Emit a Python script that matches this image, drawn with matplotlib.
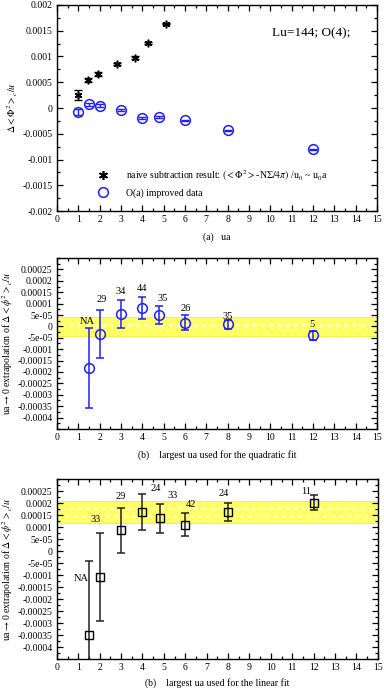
import numpy as np
import matplotlib
matplotlib.use('Agg')
from matplotlib import pyplot as plt
from matplotlib.lines import Line2D
from matplotlib.ticker import MultipleLocator, FuncFormatter

plt.rcParams['font.family'] = ['Liberation Serif', 'DejaVu Serif']
plt.rcParams['mathtext.fontset'] = 'stix'
plt.rcParams['hatch.linewidth'] = 1.5

# panel (a): naive subtraction vs O(a) improved
naive_x = [1.0, 1.45, 1.92, 2.8, 3.66, 4.29, 5.13]
naive_y = [0.000252, 0.000544, 0.00066, 0.00086, 0.00098, 0.00127, 0.00164]
naive_err = [0.0001, 0.00003, 0.00004, 0.00002, 0.00003, 0.00002, 0.00001]

impr_x = [1, 1.5, 2, 3, 4, 4.8, 6, 8, 12]
impr_y = [-0.00007, 0.00007, 0.000045, -0.000045, -0.0002, -0.000175, -0.00024, -0.00043, -0.0008]
impr_err = [0.00006, 0.00003, 0.00003, 0.00002, 0.00002, 0.00002, 0.000015, 0.000012, 0.000012]

# panel (b): quadratic fit extrapolations
quad_x = [1.5, 2, 3, 4, 4.8, 6, 8, 12]
quad_y = [-0.000183, -0.000032, 0.000055, 0.000081, 0.000049, 0.000016, 0.000009, -0.000039]
quad_err = [0.000176, 0.000105, 0.00006, 0.000047, 0.00004, 0.000033, 0.00002, 0.00002]
quad_lab = ['NA', '29', '34', '44', '35', '26', '35', '5']
quad_band = (-0.00004, 0.00004)

# panel (c): linear fit extrapolations
lin_x = [1.5, 2, 3, 4, 4.8, 6, 8, 12]
lin_y = [-0.000351, -0.000108, 0.0000856, 0.000163, 0.000137, 0.00011, 0.000162, 0.000202]
lin_err = [0.00031, 0.000182, 0.000094, 0.000074, 0.00006, 0.000047, 0.000037, 0.00003]
lin_lab = ['NA', '33', '29', '24', '33', '42', '24', '11']
lin_band = (0.000116, 0.000208)

# label offsets in pixels from the top of each error bar
quad_off = [(-2, 6), (2, 10), (0, 9), (0, 9), (3, 8), (1, 7), (0, 3), (-1, 6)]
lin_off = [(-8, -18), (-4, 14), (0, 11), (13, 6), (13, 8), (6, 9), (-4, 10), (-8, 4)]

blue = '#1e1eff'


def fmt(v, pos):
    v = round(v, 8)
    if v == 0:
        return '0'
    return '%g' % v


def style(ax, ymaj, ymin):
    ax.set_xlim(0, 15)
    ax.xaxis.set_major_locator(MultipleLocator(1))
    ax.xaxis.set_minor_locator(MultipleLocator(0.5))
    ax.yaxis.set_minor_locator(MultipleLocator(ymin))
    ax.yaxis.set_major_formatter(FuncFormatter(fmt))
    ax.tick_params(which='both', direction='in', top=True, right=True, labelsize=7, width=0.9)
    ax.tick_params(which='major', length=4, pad=3)
    ax.tick_params(which='minor', length=2)
    for s in ax.spines.values():
        s.set_linewidth(1.0)


def band(ax, lo, hi):
    ax.axhspan(lo, hi, facecolor='#ffff66', edgecolor='#eeee30', lw=0.6, zorder=0)
    mid = 0.5 * (lo + hi)
    q = 0.25 * (hi - lo)
    ax.fill_between([0, 15], mid - q, mid + q, facecolor='none', edgecolor='#ffffd8',
                    hatch='..', lw=0, zorder=0.5)


fig = plt.figure(figsize=(3.84, 6.91), dpi=100)

# ---- panel (a)
ax1 = fig.add_axes([0.148, 0.6946, 0.834, 0.2982])
ax1.errorbar(naive_x, naive_y, yerr=naive_err, fmt='none', ecolor='black', elinewidth=1, capsize=3, capthick=1)
ax1.plot(naive_x, naive_y, ls='none', marker=(6, 2, 0), ms=5.5, mew=1.1, color='black')
ax1.errorbar(impr_x, impr_y, yerr=impr_err, fmt='none', ecolor=blue, elinewidth=1, capsize=3, capthick=1)
ax1.plot(impr_x, impr_y, ls='none', marker='o', ms=7, mfc='none', mec=blue, mew=1.1)
ax1.set_ylim(-0.002, 0.002)
ax1.set_yticks(np.arange(-0.002, 0.00201, 0.0005))
style(ax1, 0.0005, 0.00025)
ax1.set_ylabel(r'$\Delta{<}\Phi^2{>}_c/u$', fontsize=7, labelpad=2)
ax1.set_xlabel('(a)   ua', fontsize=7, labelpad=6)
ax1.text(0.672, 0.864, 'Lu=144; O(4);', transform=ax1.transAxes, fontsize=9.5, va='center')
handles = [Line2D([], [], ls='none', marker=(6, 2, 0), ms=6.5, mew=1.2, color='black'),
           Line2D([], [], ls='none', marker='o', ms=7, mfc='none', mec=blue, mew=1.1)]
names = [r'naive subtraction result: $({<}\Phi^2{>}$-N$\Sigma/4\pi)$ /u$_0$ ~ u$_0$a',
         'O(a) improved data']
ax1.legend(handles, names, loc='lower left', bbox_to_anchor=(0.1, 0.03), frameon=False,
           fontsize=7, handlelength=1.5, handletextpad=1.6, labelspacing=0.6, borderpad=0.2)

# ---- panel (b)
ax2 = fig.add_axes([0.148, 0.3792, 0.834, 0.2474])
band(ax2, *quad_band)
ax2.errorbar(quad_x, quad_y, yerr=quad_err, fmt='none', ecolor=blue, elinewidth=1.1, capsize=3, capthick=1.1)
ax2.plot(quad_x, quad_y, ls='none', marker='o', ms=7, mfc='none', mec=blue, mew=1.1)
for x, y, e, t, (dx, dy) in zip(quad_x, quad_y, quad_err, quad_lab, quad_off):
    ax2.annotate(t, (x, y + e), xytext=(dx, dy), textcoords='offset pixels',
                 ha='center', va='center', fontsize=7.5)
ax2.set_ylim(-0.00045, 0.0003)
ax2.set_yticks(np.arange(-0.0004, 0.00026, 0.00005))
style(ax2, 0.00005, 0.000025)
ax2.set_ylabel(r'ua$\rightarrow$0 extrapolation of $\Delta{<}\phi^2{>}_c/u$', fontsize=7, labelpad=2)
ax2.set_xlabel('(b)    largest ua used for the quadratic fit', fontsize=7, labelpad=6)

# ---- panel (c)
ax3 = fig.add_axes([0.148, 0.0463, 0.836, 0.2605])
band(ax3, *lin_band)
ax3.errorbar(lin_x, lin_y, yerr=lin_err, fmt='none', ecolor='#222222', elinewidth=1.1, capsize=3, capthick=1.1)
ax3.plot(lin_x, lin_y, ls='none', marker='s', ms=6, mfc='none', mec='black', mew=1.0)
for x, y, e, t, (dx, dy) in zip(lin_x, lin_y, lin_err, lin_lab, lin_off):
    ax3.annotate(t, (x, y + e), xytext=(dx, dy), textcoords='offset pixels',
                 ha='center', va='center', fontsize=7.5)
ax3.set_ylim(-0.00045, 0.0003)
ax3.set_yticks(np.arange(-0.0004, 0.00026, 0.00005))
style(ax3, 0.00005, 0.000025)
ax3.set_ylabel(r'ua$\rightarrow$0 extrapolation of $\Delta{<}\phi^2{>}_c/u$', fontsize=7, labelpad=2)
ax3.set_xlabel('(b)    largest ua used for the linear fit', fontsize=7, labelpad=4)

fig.savefig('out.png', dpi=100)
